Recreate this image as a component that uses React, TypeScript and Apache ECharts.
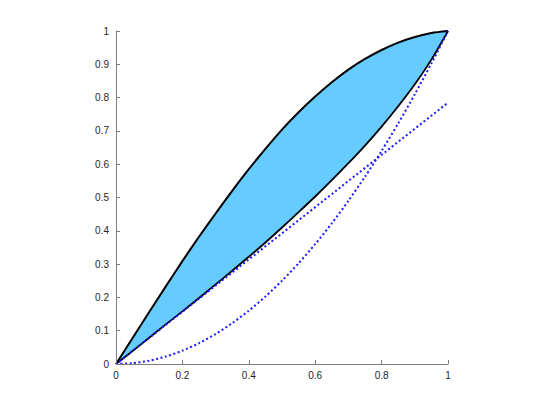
import React, { useEffect, useRef } from "react";
import * as echarts from "echarts";

const xs = [0, 0.05, 0.1, 0.15, 0.2, 0.25, 0.3, 0.35, 0.4, 0.45, 0.5, 0.55, 0.6, 0.65, 0.7, 0.75, 0.8, 0.85, 0.9, 0.95, 1];
const upperCurve = [0, 0.078, 0.156, 0.233, 0.309, 0.382, 0.452, 0.52, 0.585, 0.646, 0.704, 0.756, 0.803, 0.846, 0.884, 0.916, 0.943, 0.965, 0.982, 0.994, 1];
const lowerCurve = [0, 0.039, 0.079, 0.119, 0.158, 0.198, 0.239, 0.28, 0.322, 0.365, 0.41, 0.456, 0.503, 0.552, 0.603, 0.656, 0.713, 0.774, 0.84, 0.914, 1];
const parabola = [0, 0.0025, 0.01, 0.0225, 0.04, 0.0625, 0.09, 0.1225, 0.16, 0.2025, 0.25, 0.3025, 0.36, 0.4225, 0.49, 0.5625, 0.64, 0.7225, 0.81, 0.9025, 1];
const lineX = [0, 1];
const lineY = [0, 0.785];

const pairs = (x: number[], y: number[]) => x.map((v, i) => [v, y[i]]);
const SMOOTH = 0.25;

export default function App() {
  const ref = useRef<HTMLDivElement>(null);
  useEffect(() => {
    if (!ref.current) return;
    const chart = echarts.init(ref.current, undefined, { renderer: "svg" });
    const axisLabel = { color: "#262626", fontSize: 10, fontFamily: "Liberation Sans, Arial, sans-serif" };
    chart.setOption({
      animation: false,
      backgroundColor: "#ffffff",
      grid: { left: 116, right: 97, top: 31, bottom: 45, containLabel: false },
      xAxis: {
        type: "value",
        min: 0,
        max: 1,
        interval: 0.2,
        z: 10,
        axisLine: { lineStyle: { color: "#7f7f7f", width: 1 } },
        axisTick: { inside: true, length: 4, lineStyle: { color: "#7f7f7f" } },
        splitLine: { show: false },
        axisLabel: { ...axisLabel, margin: 6 },
      },
      yAxis: {
        type: "value",
        min: 0,
        max: 1,
        interval: 0.1,
        z: 10,
        axisLine: { show: true, lineStyle: { color: "#7f7f7f", width: 1 } },
        axisTick: { show: true, inside: true, length: 4, lineStyle: { color: "#7f7f7f" } },
        splitLine: { show: false },
        axisLabel: { ...axisLabel, margin: 7 },
      },
      series: [
        {
          type: "line",
          z: 1,
          data: pairs(xs, upperCurve),
          showSymbol: false,
          smooth: SMOOTH,
          lineStyle: { color: "#000000", width: 2 },
          areaStyle: { color: "#66ccff", opacity: 1, origin: "start" },
        },
        {
          type: "line",
          z: 2,
          data: pairs(xs, lowerCurve),
          showSymbol: false,
          smooth: SMOOTH,
          lineStyle: { color: "#000000", width: 1.8 },
          areaStyle: { color: "#ffffff", opacity: 1, origin: "start" },
        },
        {
          type: "line",
          z: 3,
          data: pairs(lineX, lineY),
          showSymbol: false,
          lineStyle: { color: "#1a1aff", width: 2, type: [2, 2.5] },
        },
        {
          type: "line",
          z: 3,
          data: pairs(xs, parabola),
          showSymbol: false,
          smooth: SMOOTH,
          lineStyle: { color: "#1a1aff", width: 2, type: [2, 2.5] },
        },
      ],
    });
    return () => chart.dispose();
  }, []);
  return <div ref={ref} style={{ width: 545, height: 409, position: "absolute", left: 0, top: 0 }} />;
}
